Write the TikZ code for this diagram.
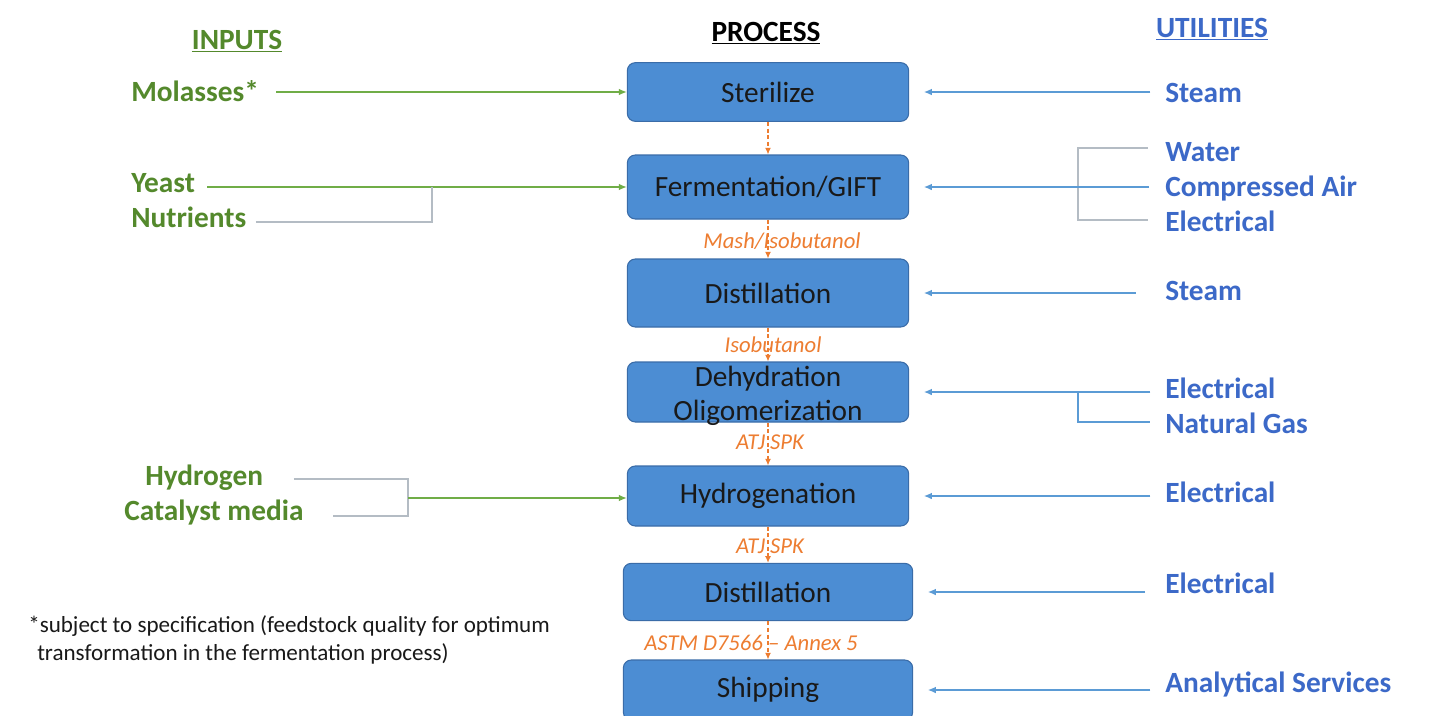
\documentclass[tikz,border=0pt]{standalone}
\usepackage{fontspec}
\setmainfont{Carlito}
\usetikzlibrary{arrows.meta}
\definecolor{boxfill}{RGB}{76,141,211}
\definecolor{boxdraw}{RGB}{58,108,168}
\definecolor{intext}{RGB}{84,137,44}
\definecolor{inline}{RGB}{112,173,71}
\definecolor{uttext}{RGB}{60,105,200}
\definecolor{utline}{RGB}{91,155,213}
\definecolor{brk}{RGB}{180,188,196}
\definecolor{flowc}{RGB}{237,125,49}
\begin{document}
\begin{tikzpicture}[x=0.75pt,y=-0.75pt,
  proc/.style={draw=boxdraw, line width=0.8pt, fill=boxfill, rounded corners=6pt,
    minimum width=211pt, minimum height=45pt, inner sep=0pt,
    font=\fontsize{22}{25.5}\selectfont, text={black!90}, align=center},
  proctext/.style={inner sep=0pt, font=\fontsize{22}{25.5}\selectfont, text={black!90}, align=center},
  inlab/.style={font=\fontsize{22}{26}\selectfont\bfseries, text=intext, inner sep=0pt, anchor=base west},
  utlab/.style={font=\fontsize{22}{26}\selectfont\bfseries, text=uttext, inner sep=0pt, anchor=base west},
  head/.style={font=\fontsize{22}{26}\selectfont\bfseries, inner sep=0pt, anchor=base},
  flowlab/.style={font=\fontsize{17}{20}\selectfont\itshape, text=flowc, inner sep=0pt},
  note/.style={font=\fontsize{17.3}{20}\selectfont, text={black!90}, inner sep=0pt, anchor=base west},
  inarrow/.style={draw=inline, line width=1pt, -{Latex[length=6pt,width=5pt]}},
  utarrow/.style={draw=utline, line width=1pt, -{Latex[length=6pt,width=5pt]}, shorten >=11pt},
  bracket/.style={draw=brk, line width=1pt},
  flow/.style={draw=flowc, line width=0.9pt, dash pattern=on 3pt off 2pt, -{Latex[length=5pt,width=4.5pt]}}
]
\useasboundingbox (0,0) rectangle (1433,715);
\fill[white] (0,0) rectangle (1433,715);

% headers
\node[head, text=intext] (hin) at (237,49) {\underline{INPUTS}};
\node[head, text=black] (hproc) at (766,41) {\underline{PROCESS}};
\node[head, text=uttext] (hut) at (1212,37) {\underline{UTILITIES}};

% process boxes
\node[proc, minimum height=44pt] (ster) at (768,92) {Sterilize};
\node[proc, minimum height=48pt] (ferm) at (768,187) {Fermentation/GIFT};
\node[proc, minimum height=51pt] (dist1) at (768,293) {Distillation};
\node[proc, minimum height=45pt] (dehy) at (768,392) {};
\node[proctext] (dehytxt) at (768,396) {Dehydration\\Oligomerization};
\node[proc, minimum height=45pt] (hydro) at (768,496) {Hydrogenation};
\node[proc, minimum height=43pt, minimum width=217pt] (dist2) at (768,592) {Distillation};
\node[proc, minimum height=45pt, minimum width=217pt] (ship) at (768,690) {Shipping};

% flow labels
\node[flowlab] (f1) at (782,241) {Mash/Isobutanol};
\node[flowlab] (f2) at (773,345) {Isobutanol};
\node[flowlab] (f3) at (770,442) {ATJ SPK};
\node[flowlab] (f4) at (770,546) {ATJ SPK};
\node[flowlab] (f5) at (751,643) {ASTM D7566 -- Annex 5};

% flow arrows
\draw[flow] (ster.south) -- (ferm.north);
\draw[flow] (ferm.south) -- (dist1.north);
\draw[flow] (dist1.south) -- (dehy.north);
\draw[flow] (dehy.south) -- (hydro.north);
\draw[flow] (hydro.south) -- (dist2.north);
\draw[flow] (dist2.south) -- (ship.north);

% inputs
\node[inlab] (mol) at (131,101) {Molasses*};
\node[inlab] (yeast) at (131,192) {Yeast};
\node[inlab] (nutr) at (131,227) {Nutrients};
\node[inlab] (h2) at (145,485) {Hydrogen};
\node[inlab] (cat) at (124,520) {Catalyst media};

\coordinate (bn) at (432,222);
\coordinate (bh) at (408,498);

\draw[inarrow] ([xshift=13pt]mol.east |- ster.west) -- (ster.west);
\draw[inarrow] ([xshift=9pt]yeast.east |- ferm.west) -- (ferm.west);
\draw[bracket] ([xshift=7pt]nutr.east |- bn) -- (bn) -- (bn |- ferm.west);
\draw[bracket] ([xshift=23pt]h2.east |- 0,479) -- (408,479) -- (408,516) -- ([xshift=22pt]cat.east |- 0,516);
\draw[inarrow] (bh) -- (bh -| hydro.west);

% utilities
\node[utlab] (steam1) at (1165,102) {Steam};
\node[utlab] (water) at (1165,161) {Water};
\node[utlab] (air) at (1165,196) {Compressed Air};
\node[utlab] (elec1) at (1165,231) {Electrical};
\node[utlab] (steam2) at (1165,300) {Steam};
\node[utlab] (elec2) at (1165,398) {Electrical};
\node[utlab] (gas) at (1165,433) {Natural Gas};
\node[utlab] (elec3) at (1165,502) {Electrical};
\node[utlab] (elec4) at (1165,593) {Electrical};
\node[utlab] (anal) at (1165,692) {Analytical Services};

\coordinate (bw) at (1078,148);
\coordinate (be) at (1078,220);
\coordinate (bg) at (1078,422);

\draw[utarrow] ([xshift=-11pt]steam1.west |- ster.east) -- (ster.east);
\draw[bracket] ([xshift=-13pt]water.west |- bw) -- (bw) -- (be) -- ([xshift=-13pt]elec1.west |- be);
\draw[utarrow] ([xshift=-12pt]air.west |- ferm.east) -- (ferm.east);
\draw[utarrow] ([xshift=-22pt]steam2.west |- dist1.east) -- (dist1.east);
\draw[utarrow] ([xshift=-11pt]elec2.west |- dehy.east) -- (dehy.east);
\draw[draw=utline, line width=1pt] (bg |- dehy.east) -- (bg) -- ([xshift=-11pt]gas.west |- bg);
\draw[utarrow] ([xshift=-11pt]elec3.west |- hydro.east) -- (hydro.east);
\draw[utarrow] ([xshift=-15pt]elec4.west |- dist2.east) -- (dist2.east);
\draw[utarrow] ([xshift=-11pt]anal.west |- ship.east) -- (ship.east);

% footnote
\node[note] (n1) at (28,632) {*subject to specification (feedstock quality for optimum};
\node[note] (n2) at (37,660) {transformation in the fermentation process)};
\end{tikzpicture}
\end{document}
